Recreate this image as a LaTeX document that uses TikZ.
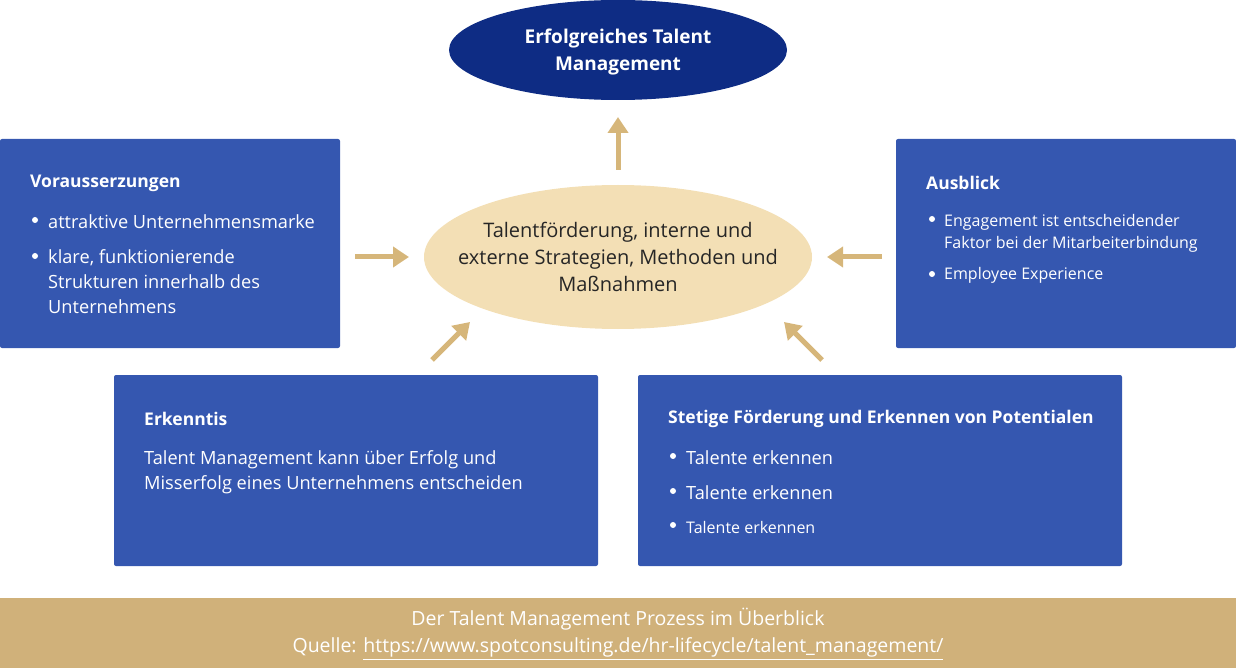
\documentclass[tikz,border=0pt]{standalone}
\usepackage{fontspec}
\setmainfont{Open Sans}
\usetikzlibrary{arrows.meta,shapes.geometric}
\definecolor{navy}{HTML}{0E2C84}
\definecolor{boxblue}{HTML}{3557B0}
\definecolor{cream}{HTML}{F3DFB5}
\definecolor{tan}{HTML}{D6B67A}
\definecolor{foot}{HTML}{D0B17A}
\begin{document}
\begin{tikzpicture}[x=1pt,y=-1pt,
  bx/.style={fill=boxblue,draw=none,rounded corners=2pt},
  ttl/.style={anchor=west,inner sep=0pt,text=white,font=\fontsize{17.5}{20}\selectfont\bfseries},
  txt/.style={anchor=west,inner sep=0pt,text=white,font=\fontsize{18.2}{25}\selectfont,align=left},
  sm/.style={anchor=west,inner sep=0pt,text=white,font=\fontsize{16}{22}\selectfont,align=left},
  dot/.style={circle,fill=white,inner sep=0pt,minimum size=6pt},
  arr/.style={draw=tan,line width=5pt,-{Triangle[length=16pt,width=20pt]}}]
\useasboundingbox (0,0) rectangle (1236,668);
% ellipses
\fill[navy] (618,50) ellipse [x radius=169, y radius=50];
\node (top) [text=white,align=center,font=\fontsize{19}{27}\selectfont\bfseries,inner sep=0pt] at (618,52) {Erfolgreiches Talent\\Management};
\fill[cream] (618,257) ellipse [x radius=194, y radius=72];
\node (mid) [text=black!85,align=center,font=\fontsize{20}{27}\selectfont,inner sep=0pt] at (618,257) {Talentförderung, interne und\\externe Strategien, Methoden und\\Maßnahmen};
% boxes
\fill[bx] (0,139) rectangle (340,348);
\fill[bx] (896,139) rectangle (1236,348);
\fill[bx] (114,375) rectangle (598,566);
\fill[bx] (638,375) rectangle (1122,566);
\fill[foot] (0,598) rectangle (1236,668);
% left box
\node[ttl] (lt) at (30,183) {Vorausserzungen};
\node[dot] at (35,220) {};
\node[txt] at (48,222) {attraktive Unternehmensmarke};
\node[dot] at (35,256) {};
\node[txt,anchor=north west] at (48,249) {klare, funktionierende\\Strukturen innerhalb des\\Unternehmens};
% right box
\node[ttl] (rt) at (926,183) {Ausblick};
\node[dot] at (932,219) {};
\node[sm,anchor=north west] at (944,214) {Engagement ist entscheidender\\Faktor bei der Mitarbeiterbindung};
\node[dot] at (932,274) {};
\node[sm] at (944,275) {Employee Experience};
% bottom left
\node[ttl] (bl) at (144,419) {Erkenntis};
\node[txt,anchor=north west] at (144,450) {Talent Management kann über Erfolg und\\Misserfolg eines Unternehmens entscheiden};
% bottom right
\node[ttl] (br) at (668,419) {Stetige Förderung und Erkennen von Potentialen};
\node[dot] at (673,456) {};
\node[txt] at (686,458) {Talente erkennen};
\node[dot] at (673,491) {};
\node[txt] at (686,493) {Talente erkennen};
\node[dot] at (673,525) {};
\node[sm] at (686,527) {Talente erkennen};
% footer
\node (ft) [text=white,align=center,font=\fontsize{19.5}{27}\selectfont,inner sep=0pt] at (618,634)
  {Der Talent Management Prozess im Überblick\\Quelle: \underline{https://www.spotconsulting.de/hr-lifecycle/talent\_management/}};
% arrows
\coordinate (a1) at (618,170); \coordinate (a2) at (618,117);
\coordinate (b1) at (355,257); \coordinate (b2) at (409,257);
\coordinate (c1) at (882,257); \coordinate (c2) at (827,257);
\coordinate (d1) at (432,360); \coordinate (d2) at (470,322);
\coordinate (e1) at (822,360); \coordinate (e2) at (784,322);
\draw[arr] (a1) -- (a2);
\draw[arr] (b1) -- (b2);
\draw[arr] (c1) -- (c2);
\draw[arr] (d1) -- (d2);
\draw[arr] (e1) -- (e2);
\end{tikzpicture}
\end{document}
